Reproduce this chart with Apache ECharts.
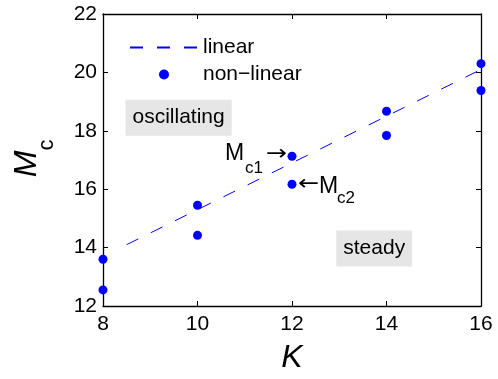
<!DOCTYPE html>
<html>
<head>
<meta charset="utf-8">
<script src="https://cdn.jsdelivr.net/npm/echarts@6/dist/echarts.min.js"></script>
<style>
html, body { margin: 0; padding: 0; background: #fff; }
#chart { width: 498px; height: 379px; }
</style>
</head>
<body>
<div id="chart"></div>
<script>
// values
const kValues = [8, 10, 12, 14, 16];
const upperMc = [13.6, 15.45, 17.13, 18.67, 20.3];
const lowerMc = [12.55, 14.42, 16.17, 17.84, 19.38];
const linearK = [8.5, 16];
const linearMc = [14.1, 20.1];

const FONT = '"Liberation Sans", Arial, sans-serif';
const BLUE = '#0000ff';

const nonLinear = [];
kValues.forEach((k, i) => {
    nonLinear.push([k, upperMc[i]]);
    nonLinear.push([k, lowerMc[i]]);
});
const linear = linearK.map((k, i) => [k, linearMc[i]]);

const chart = echarts.init(document.getElementById('chart'), null, { renderer: 'canvas' });

const tickLabel = { fontFamily: FONT, fontSize: 21, color: '#000' };

const option = {
    animation: false,
    grid: { left: 103, right: 17, top: 14, bottom: 72 },
    legend: {
        left: 129,
        top: 37,
        padding: 0,
        orient: 'vertical',
        itemWidth: 68,
        itemHeight: 10,
        itemGap: 6,
        textStyle: { fontFamily: FONT, fontSize: 21, color: '#000' },
        data: [
            { name: 'linear', itemStyle: { opacity: 0 } },
            'non\u2212linear',
        ],
    },
    xAxis: [
        {
            type: 'value',
            min: 8, max: 16, interval: 2,
            axisLine: { lineStyle: { color: '#000', width: 1.3 } },
            axisTick: { inside: true, length: 5, lineStyle: { color: '#000' } },
            axisLabel: Object.assign({ margin: 8 }, tickLabel),
            splitLine: { show: false },
            name: 'K',
            nameLocation: 'middle',
            nameGap: 36,
            nameTextStyle: { fontFamily: FONT, fontSize: 32, fontStyle: 'italic', color: '#000' },
        },
        {
            type: 'value',
            position: 'top',
            min: 8, max: 16, interval: 2,
            axisLine: { onZero: false, lineStyle: { color: '#000', width: 1.3 } },
            axisTick: { inside: true, length: 5, lineStyle: { color: '#000' } },
            axisLabel: { show: false },
            splitLine: { show: false },
        },
    ],
    yAxis: [
        {
            type: 'value',
            min: 12, max: 22, interval: 2,
            axisLine: { show: true, lineStyle: { color: '#000', width: 1.3 } },
            axisTick: { show: true, inside: true, length: 5, lineStyle: { color: '#000' } },
            axisLabel: Object.assign({ margin: 6 }, tickLabel),
            splitLine: { show: false },
        },
        {
            type: 'value',
            position: 'right',
            min: 12, max: 22, interval: 2,
            axisLine: { show: true, onZero: false, lineStyle: { color: '#000', width: 1.3 } },
            axisTick: { show: true, inside: true, length: 5, lineStyle: { color: '#000' } },
            axisLabel: { show: false },
            splitLine: { show: false },
        },
    ],
    series: [
        {
            name: 'linear',
            type: 'line',
            data: linear,
            showSymbol: false,
            symbol: 'none',
            lineStyle: { color: BLUE, width: 1, type: [13, 14] },
            itemStyle: { color: BLUE },
            z: 2,
        },
        {
            name: 'non\u2212linear',
            type: 'scatter',
            data: nonLinear,
            symbolSize: 9,
            itemStyle: { color: BLUE, opacity: 1 },
            clip: false,
            z: 3,
        },
    ],
};

chart.setOption(option);

// annotations placed from data coordinates
function px(k, m) { return chart.convertToPixel({ gridIndex: 0 }, [k, m]); }

const txt = (x, y, text, size, extra, el) => Object.assign({
    type: 'text', x: x, y: y, silent: true,
    style: Object.assign({
        text: text, fontFamily: FONT, fontSize: size, fill: '#000',
        align: 'left', verticalAlign: 'middle',
    }, extra || {}),
}, el || {});

const boxStyle = { backgroundColor: '#e6e6e6', padding: [8, 7, 7, 7], align: 'center' };
const arrowStyle = { fontFamily: '"DejaVu Sans", sans-serif' };

const p1 = px(12, upperMc[2]);
const p2 = px(12, lowerMc[2]);
const osc = px(9.6, 18.45);
const std = px(13.74, 13.97);

const yName = [
    { type: 'text', x: 27, y: 164, rotation: Math.PI / 2, silent: true,
      style: { text: 'M', fontFamily: FONT, fontSize: 32, fontStyle: 'italic', fill: '#000', align: 'center', verticalAlign: 'middle' } },
    { type: 'text', x: 47, y: 145, rotation: Math.PI / 2, silent: true,
      style: { text: 'c', fontFamily: FONT, fontSize: 22, fill: '#000', align: 'center', verticalAlign: 'middle' } },
];

chart.setOption({
    graphic: [
        txt(osc[0], osc[1], 'oscillating', 21, boxStyle),
        txt(std[0], std[1], 'steady', 21, boxStyle),
        txt(p1[0] - 67, p1[1] - 3, 'M', 23),
        txt(p1[0] - 47, p1[1] + 12, 'c1', 17),
        txt(p1[0] - 5, p1[1] - 2, '\u2192', 21, Object.assign({ align: 'right' }, arrowStyle), { scaleX: 1.2 }),
        txt(p2[0] + 6, p2[1], '\u2190', 21, arrowStyle, { scaleX: 1.2 }),
        txt(p2[0] + 27, p2[1] + 2, 'M', 23),
        txt(p2[0] + 45, p2[1] + 14, 'c2', 17),
    ].concat(yName),
});
</script>
</body>
</html>
